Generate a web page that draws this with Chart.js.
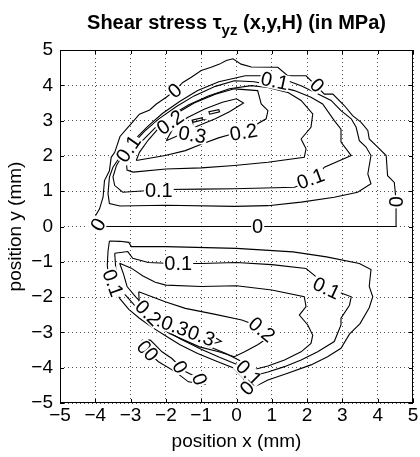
<!DOCTYPE html>
<html>
<head>
<meta charset="utf-8">
<script src="https://cdn.jsdelivr.net/npm/chart.js@4.4.1/dist/chart.umd.min.js"></script>
<style>
  html, body { margin: 0; padding: 0; background: #fff; }
  canvas { display: block; }
</style>
</head>
<body>
<canvas id="chart" width="420" height="457"></canvas>
<script>
// contour lines of tau_yz, points are [x mm, y mm]
const upperZero = [[-3.97,0.0],[-4.02,0.26],[-3.88,0.5],[-3.78,0.83],[-3.74,1.3],[-3.6,1.58],[-3.55,1.96],[-3.45,2.1],[-3.3,2.55],[-3.12,2.76],[-2.95,2.95],[-2.75,3.18],[-2.46,3.3],[-2.27,3.47],[-1.99,3.66],[-1.75,3.85],[-1.52,4.08],[-1.28,4.23],[-1.0,4.42],[-0.72,4.51],[-0.48,4.6],[-0.29,4.7],[-0.1,4.75],[0.13,4.6],[0.42,4.52],[1.17,4.51],[1.45,4.27],[1.97,4.27],[2.25,3.99],[2.49,3.75],[2.73,3.75],[3.06,3.42],[3.29,3.14],[3.53,2.95],[3.72,2.72],[3.76,2.48],[4.0,2.25],[4.24,2.01],[4.28,1.44],[4.47,1.25],[4.52,0.74],[4.52,0.0],[-3.97,0.0]];
const upperA = [[-3.3,0.58],[-2.0,0.6],[-0.06,0.57],[0.89,0.59],[1.83,0.69],[2.77,0.83],[3.43,0.97],[3.81,1.21],[3.72,1.49],[3.81,2.01],[3.67,2.25],[3.48,2.43],[3.39,2.81],[3.25,3.05],[2.96,3.28],[2.68,3.57],[2.21,3.8],[1.83,3.99],[1.45,4.13],[1.1,4.2],[0.79,4.27],[0.25,4.27],[-0.5,4.1],[-1.1,3.85],[-1.6,3.55],[-2.1,3.2],[-2.5,2.85],[-2.85,2.5],[-3.15,2.15],[-3.31,1.96],[-3.5,1.68],[-3.6,1.4],[-3.64,0.93],[-3.6,0.65],[-3.3,0.58]];
const upperB = [[-2.79,1.0],[-2.0,1.05],[-1.0,1.06],[-0.06,1.07],[0.8,1.09],[1.64,1.11],[2.16,1.3],[2.49,1.68],[3.25,2.01],[2.96,2.39],[2.96,2.76],[2.77,3.0],[2.44,3.47],[2.11,3.66],[1.64,3.85],[1.08,3.99],[0.5,4.1],[-0.06,4.13],[-0.6,3.97],[-1.2,3.7],[-1.7,3.4],[-2.2,3.05],[-2.6,2.7],[-2.95,2.33],[-3.26,1.96],[-3.4,1.73],[-3.5,1.4],[-3.45,1.16],[-3.22,0.97],[-2.79,1.0]];
const upperC = [[-2.93,1.54],[-2.0,1.63],[-1.0,1.66],[-0.06,1.73],[0.89,1.82],[1.92,1.96],[1.97,2.2],[1.83,2.48],[2.11,2.81],[2.16,3.19],[1.83,3.57],[1.45,3.8],[0.89,3.94],[0.42,3.99],[-0.2,3.9],[-0.8,3.7],[-1.35,3.45],[-1.85,3.15],[-2.3,2.8],[-2.65,2.45],[-2.95,2.1],[-3.12,1.8],[-3.1,1.6],[-2.93,1.54]];
const upperD = [[-2.84,1.87],[-2.02,2.01],[-1.45,2.15],[-0.98,2.34],[-0.51,2.51],[-0.2,2.6],[0.2,2.7],[0.51,2.86],[0.84,3.05],[0.89,3.28],[0.7,3.47],[0.6,3.85],[-0.06,3.9],[-0.6,3.75],[-1.2,3.5],[-1.7,3.2],[-2.15,2.85],[-2.5,2.45],[-2.75,2.1],[-2.84,1.87]];
const upperE = [[-1.99,2.43],[-1.6,2.6],[-1.1,2.85],[-0.6,3.05],[-0.2,3.25],[0.2,3.5],[0.0,3.62],[-0.4,3.52],[-0.9,3.33],[-1.4,3.08],[-1.8,2.78],[-1.99,2.43]];
const upperIsland1 = [[-0.76,3.18],[-0.48,3.25],[-0.5,3.31],[-0.78,3.25],[-0.76,3.18]];
const upperIsland2 = [[-1.24,2.95],[-0.95,3.02],[-0.97,3.08],[-1.26,3.01],[-1.24,2.95]];

const lowerZero = [[-3.6,-0.41],[-3.3,-0.42],[-3.05,-0.45],[-2.98,-0.57],[-2.0,-0.57],[0.0,-0.62],[1.6,-0.72],[2.55,-0.86],[3.48,-1.05],[3.81,-1.22],[3.76,-1.7],[3.86,-1.99],[3.76,-2.3],[3.5,-2.75],[3.2,-3.05],[2.96,-3.45],[2.58,-3.69],[2.11,-3.92],[1.45,-4.16],[0.89,-4.35],[0.5,-4.55],[0.35,-4.68],[0.2,-4.3],[-0.1,-4.0],[-0.6,-3.8],[-1.1,-3.6],[-1.6,-3.35],[-2.0,-3.1],[-2.4,-2.85],[-2.75,-2.6],[-3.05,-2.35],[-3.3,-2.05],[-3.5,-1.7],[-3.64,-1.3],[-3.66,-1.09],[-3.64,-0.7],[-3.6,-0.41]];
const lowerA = [[-3.45,-0.76],[-3.08,-0.71],[-2.94,-0.9],[-2.5,-1.02],[-2.0,-1.04],[-1.0,-1.05],[0.0,-1.02],[1.0,-1.08],[1.97,-1.19],[2.25,-1.42],[2.54,-1.7],[2.87,-1.85],[3.25,-1.99],[3.2,-2.23],[2.96,-2.6],[2.96,-2.79],[2.77,-3.26],[2.3,-3.55],[1.83,-3.78],[1.36,-3.97],[0.89,-4.12],[0.6,-4.2],[0.35,-4.1],[0.05,-3.92],[-0.5,-3.7],[-1.0,-3.48],[-1.6,-3.18],[-2.1,-2.88],[-2.5,-2.58],[-2.9,-2.22],[-3.2,-1.88],[-3.35,-1.6],[-3.42,-1.2],[-3.45,-0.76]];
const lowerB = [[-3.31,-1.04],[-2.98,-1.18],[-2.65,-1.4],[-2.3,-1.58],[-2.0,-1.66],[-1.0,-1.7],[0.0,-1.68],[1.0,-1.8],[1.92,-1.99],[1.97,-2.27],[1.78,-2.51],[2.02,-2.79],[2.16,-3.08],[2.11,-3.31],[1.83,-3.55],[1.36,-3.78],[0.89,-3.95],[0.51,-4.05],[0.2,-3.85],[-0.3,-3.6],[-0.9,-3.35],[-1.5,-3.05],[-2.0,-2.75],[-2.45,-2.4],[-2.85,-2.0],[-3.1,-1.7],[-3.2,-1.35],[-3.31,-1.04]];
const lowerC = [[-2.77,-1.85],[-2.02,-2.13],[-1.45,-2.32],[-0.6,-2.49],[0.15,-2.65],[0.55,-2.8],[0.9,-3.15],[0.6,-3.35],[0.23,-3.55],[-0.06,-3.69],[-0.5,-3.55],[-1.05,-3.41],[-1.9,-3.03],[-2.46,-2.65],[-2.75,-2.27],[-2.77,-1.85]];
const lowerD = [[-2.1,-2.55],[-1.5,-2.75],[-1.0,-2.95],[-0.6,-3.15],[-0.43,-3.25],[-0.6,-3.3],[-1.0,-3.22],[-1.5,-3.02],[-1.9,-2.8],[-2.1,-2.55]];
const lowerIsland = [[-2.68,-3.22],[-2.44,-3.22],[-2.11,-3.55],[-1.83,-3.74],[-1.45,-4.11],[-1.17,-4.25],[-0.84,-4.3],[-0.89,-4.47],[-1.36,-4.4],[-1.74,-4.11],[-2.21,-3.83],[-2.58,-3.5],[-2.68,-3.22]];

const contourLines = [upperZero, upperA, upperB, upperC, upperD, upperE, upperIsland1, upperIsland2,
  lowerZero, lowerA, lowerB, lowerC, lowerD, lowerIsland];

// inline labels: text, x, y, angle (deg, counter-clockwise)
const contourLabels = [
  ["0", -1.75, 3.85, 40], ["0.1", 1.08, 4.12, -12], ["0", 2.28, 4.0, -45], ["0", 4.52, 0.7, 90],
  ["0", 0.6, 0.0, 0], ["0", -3.92, 0.05, 60], ["0.1", -3.06, 2.2, 55], ["0.2", -1.88, 2.95, 35],
  ["0.3", -1.25, 2.6, -10], ["0.2", 0.2, 2.67, 10], ["0.1", -2.2, 1.02, 0], ["0.1", 2.1, 1.35, 20],
  ["0.1", -1.65, -1.05, 0], ["0.1", 2.55, -1.75, -25], ["0.1", -3.5, -1.6, -70], ["0.2", -2.5, -2.45, -45],
  ["0.3", -1.75, -2.82, -20], ["0.3", -1.0, -3.1, -20], ["0.2", 0.72, -2.92, -40], ["0.1", 0.35, -4.15, -45],
  ["0", 0.3, -4.58, 45], ["0", -2.62, -3.42, -50], ["0", -2.42, -3.62, -50], ["0", -1.6, -3.98, -60],
  ["0", -1.05, -4.33, -70]
];

const tickValues = [-5, -4, -3, -2, -1, 0, 1, 2, 3, 4, 5];

const FONT = "'Liberation Sans', Arial, Helvetica, sans-serif";
const fmtTick = (v) => (v < 0 ? "\u2212" + Math.abs(v) : String(v));

const datasets = contourLines.map((line) => ({
  data: line.map(([x, y]) => ({ x, y })),
  showLine: true,
  borderColor: "#000",
  borderWidth: 1.1,
  pointRadius: 0,
  pointHoverRadius: 0,
  tension: 0,
  fill: false,
}));

const labelPlugin = {
  id: "contourLabels",
  afterDatasetsDraw(chart) {
    const { ctx, scales } = chart;
    ctx.save();
    ctx.font = "20px " + FONT;
    ctx.textAlign = "center";
    ctx.textBaseline = "middle";
    contourLabels.forEach(([txt, x, y, ang]) => {
      const px = scales.x.getPixelForValue(x);
      const py = scales.y.getPixelForValue(y);
      const w = ctx.measureText(txt).width;
      ctx.save();
      ctx.translate(px, py);
      ctx.rotate((-ang * Math.PI) / 180);
      ctx.fillStyle = "#fff";
      ctx.fillRect(-w / 2 - 1, -8, w + 2, 16);
      ctx.fillStyle = "#000";
      ctx.fillText(txt, 0, 1);
      ctx.restore();
    });
    ctx.restore();
  },
};

const framePlugin = {
  id: "frame",
  afterDraw(chart) {
    const { ctx, chartArea: a, scales } = chart;
    ctx.save();
    ctx.strokeStyle = "#000";
    ctx.lineWidth = 1;
    ctx.strokeRect(Math.round(a.left) + 0.5, Math.round(a.top) + 0.5,
      Math.round(a.right - a.left) - 1, Math.round(a.bottom - a.top) - 1);
    ctx.beginPath();
    tickValues.forEach((v) => {
      const px = Math.round(scales.x.getPixelForValue(v)) + 0.5;
      ctx.moveTo(px, a.bottom); ctx.lineTo(px, a.bottom - 4);
      ctx.moveTo(px, a.top); ctx.lineTo(px, a.top + 4);
      const py = Math.round(scales.y.getPixelForValue(v)) + 0.5;
      ctx.moveTo(a.left, py); ctx.lineTo(a.left + 4, py);
      ctx.moveTo(a.right, py); ctx.lineTo(a.right - 4, py);
    });
    ctx.stroke();

    // title with subscript
    const mainFont = "bold 20px " + FONT;
    const subFont = "bold 15px " + FONT;
    const p1 = "Shear stress \u03c4", sub = "yz", p2 = " (x,y,H) (in MPa)";
    ctx.font = mainFont;
    const w1 = ctx.measureText(p1).width, w3 = ctx.measureText(p2).width;
    ctx.font = subFont;
    const w2 = ctx.measureText(sub).width;
    let x = (a.left + a.right) / 2 - (w1 + w2 + w3) / 2;
    const base = 29;
    ctx.fillStyle = "#000";
    ctx.textBaseline = "alphabetic";
    ctx.textAlign = "left";
    ctx.font = mainFont; ctx.fillText(p1, x, base); x += w1;
    ctx.font = subFont; ctx.fillText(sub, x, base + 6); x += w2;
    ctx.font = mainFont; ctx.fillText(p2, x, base);
    ctx.restore();
  },
};

const gridCfg = {
  color: "rgba(0,0,0,0.7)",
  lineWidth: 1,
  drawTicks: false,
};

new Chart(document.getElementById("chart"), {
  type: "scatter",
  data: { datasets },
  options: {
    responsive: false,
    animation: false,
    devicePixelRatio: 1,
    layout: { padding: { top: 50, right: 7, left: 0, bottom: 0 } },
    plugins: { legend: { display: false }, tooltip: { enabled: false } },
    scales: {
      x: {
        type: "linear",
        min: -5,
        max: 5,
        afterBuildTicks: (s) => { s.ticks = tickValues.map((v) => ({ value: v })); },
        afterFit: (s) => { s.height = 54; },
        grid: gridCfg,
        border: { display: false, dash: [1, 3] },
        ticks: { color: "#000", padding: 1, font: { size: 19, family: FONT }, callback: fmtTick, maxRotation: 0, autoSkip: false },
        title: { display: true, text: "position x (mm)", color: "#000", font: { size: 19, family: FONT }, padding: { top: 0, bottom: 4 } },
      },
      y: {
        type: "linear",
        min: -5,
        max: 5,
        afterBuildTicks: (s) => { s.ticks = tickValues.map((v) => ({ value: v })); },
        afterFit: (s) => { s.width = 60; },
        grid: gridCfg,
        border: { display: false, dash: [1, 3] },
        ticks: { color: "#000", padding: 7, font: { size: 19, family: FONT }, callback: fmtTick, autoSkip: false },
        title: { display: true, text: "position y (mm)", color: "#000", font: { size: 19, family: FONT }, padding: { top: 4, bottom: 0 } },
      },
    },
  },
  plugins: [labelPlugin, framePlugin],
});
</script>
</body>
</html>
